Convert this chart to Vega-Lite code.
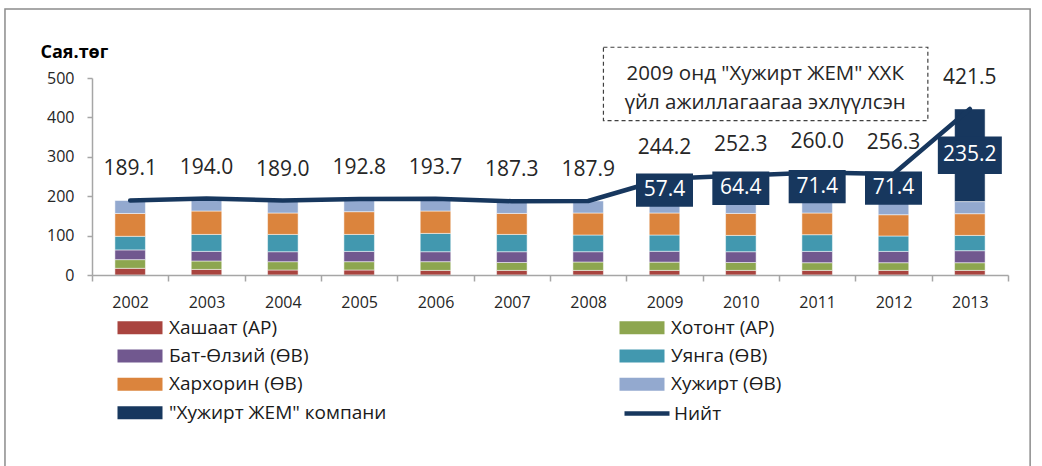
{
  "$schema": "https://vega.github.io/schema/vega-lite/v6.json",
  "width": 916,
  "height": 197,
  "autosize": {"type": "none"},
  "padding": {"left": 92, "top": 78, "right": 34, "bottom": 191},
  "background": "white",
  "config": {
    "view": {"stroke": null},
    "font": "Open Sans",
    "text": {"font": "Open Sans"}
  },
  "datasets": {
    "seg": [
      {"year": "2002", "series": "Хашаат (АР)", "value": 17.0},
      {"year": "2002", "series": "Хотонт (АР)", "value": 22.0},
      {"year": "2002", "series": "Бат-Өлзий (ӨВ)", "value": 24.7},
      {"year": "2002", "series": "Уянга (ӨВ)", "value": 34.5},
      {"year": "2002", "series": "Хархорин (ӨВ)", "value": 58.0},
      {"year": "2002", "series": "Хужирт (ӨВ)", "value": 32.9},
      {"year": "2003", "series": "Хашаат (АР)", "value": 14.2},
      {"year": "2003", "series": "Хотонт (АР)", "value": 21.3},
      {"year": "2003", "series": "Бат-Өлзий (ӨВ)", "value": 24.5},
      {"year": "2003", "series": "Уянга (ӨВ)", "value": 43.0},
      {"year": "2003", "series": "Хархорин (ӨВ)", "value": 59.4},
      {"year": "2003", "series": "Хужирт (ӨВ)", "value": 31.6},
      {"year": "2004", "series": "Хашаат (АР)", "value": 12.7},
      {"year": "2004", "series": "Хотонт (АР)", "value": 21.1},
      {"year": "2004", "series": "Бат-Өлзий (ӨВ)", "value": 25.3},
      {"year": "2004", "series": "Уянга (ӨВ)", "value": 43.9},
      {"year": "2004", "series": "Хархорин (ӨВ)", "value": 54.4},
      {"year": "2004", "series": "Хужирт (ӨВ)", "value": 31.6},
      {"year": "2005", "series": "Хашаат (АР)", "value": 12.7},
      {"year": "2005", "series": "Хотонт (АР)", "value": 21.1},
      {"year": "2005", "series": "Бат-Өлзий (ӨВ)", "value": 26.1},
      {"year": "2005", "series": "Уянга (ӨВ)", "value": 43.1},
      {"year": "2005", "series": "Хархорин (ӨВ)", "value": 57.7},
      {"year": "2005", "series": "Хужирт (ӨВ)", "value": 32.1},
      {"year": "2006", "series": "Хашаат (АР)", "value": 11.7},
      {"year": "2006", "series": "Хотонт (АР)", "value": 22.1},
      {"year": "2006", "series": "Бат-Өлзий (ӨВ)", "value": 25.3},
      {"year": "2006", "series": "Уянга (ӨВ)", "value": 46.5},
      {"year": "2006", "series": "Хархорин (ӨВ)", "value": 56.8},
      {"year": "2006", "series": "Хужирт (ӨВ)", "value": 31.3},
      {"year": "2007", "series": "Хашаат (АР)", "value": 11.7},
      {"year": "2007", "series": "Хотонт (АР)", "value": 20.0},
      {"year": "2007", "series": "Бат-Өлзий (ӨВ)", "value": 27.4},
      {"year": "2007", "series": "Уянга (ӨВ)", "value": 43.9},
      {"year": "2007", "series": "Хархорин (ӨВ)", "value": 53.3},
      {"year": "2007", "series": "Хужирт (ӨВ)", "value": 31.0},
      {"year": "2008", "series": "Хашаат (АР)", "value": 11.7},
      {"year": "2008", "series": "Хотонт (АР)", "value": 21.3},
      {"year": "2008", "series": "Бат-Өлзий (ӨВ)", "value": 26.1},
      {"year": "2008", "series": "Уянга (ӨВ)", "value": 42.4},
      {"year": "2008", "series": "Хархорин (ӨВ)", "value": 55.9},
      {"year": "2008", "series": "Хужирт (ӨВ)", "value": 30.5},
      {"year": "2009", "series": "Хашаат (АР)", "value": 11.7},
      {"year": "2009", "series": "Хотонт (АР)", "value": 21.0},
      {"year": "2009", "series": "Бат-Өлзий (ӨВ)", "value": 27.5},
      {"year": "2009", "series": "Уянга (ӨВ)", "value": 41.3},
      {"year": "2009", "series": "Хархорин (ӨВ)", "value": 55.9},
      {"year": "2009", "series": "Хужирт (ӨВ)", "value": 29.4},
      {"year": "2009", "series": "\"Хужирт ЖЕМ\" компани", "value": 57.4},
      {"year": "2010", "series": "Хашаат (АР)", "value": 11.7},
      {"year": "2010", "series": "Хотонт (АР)", "value": 20.0},
      {"year": "2010", "series": "Бат-Өлзий (ӨВ)", "value": 27.4},
      {"year": "2010", "series": "Уянга (ӨВ)", "value": 41.4},
      {"year": "2010", "series": "Хархорин (ӨВ)", "value": 55.8},
      {"year": "2010", "series": "Хужирт (ӨВ)", "value": 31.6},
      {"year": "2010", "series": "\"Хужирт ЖЕМ\" компани", "value": 64.4},
      {"year": "2011", "series": "Хашаат (АР)", "value": 11.7},
      {"year": "2011", "series": "Хотонт (АР)", "value": 19.5},
      {"year": "2011", "series": "Бат-Өлзий (ӨВ)", "value": 28.7},
      {"year": "2011", "series": "Уянга (ӨВ)", "value": 42.4},
      {"year": "2011", "series": "Хархорин (ӨВ)", "value": 55.1},
      {"year": "2011", "series": "Хужирт (ӨВ)", "value": 31.2},
      {"year": "2011", "series": "\"Хужирт ЖЕМ\" компани", "value": 71.4},
      {"year": "2012", "series": "Хашаат (АР)", "value": 11.7},
      {"year": "2012", "series": "Хотонт (АР)", "value": 19.5},
      {"year": "2012", "series": "Бат-Өлзий (ӨВ)", "value": 28.7},
      {"year": "2012", "series": "Уянга (ӨВ)", "value": 39.1},
      {"year": "2012", "series": "Хархорин (ӨВ)", "value": 54.0},
      {"year": "2012", "series": "Хужирт (ӨВ)", "value": 31.9},
      {"year": "2012", "series": "\"Хужирт ЖЕМ\" компани", "value": 71.4},
      {"year": "2013", "series": "Хашаат (АР)", "value": 11.7},
      {"year": "2013", "series": "Хотонт (АР)", "value": 19.5},
      {"year": "2013", "series": "Бат-Өлзий (ӨВ)", "value": 30.5},
      {"year": "2013", "series": "Уянга (ӨВ)", "value": 38.8},
      {"year": "2013", "series": "Хархорин (ӨВ)", "value": 55.1},
      {"year": "2013", "series": "Хужирт (ӨВ)", "value": 30.7},
      {"year": "2013", "series": "\"Хужирт ЖЕМ\" компани", "value": 235.2}
    ],
    "tot": [
      {"year": "2002", "total": 189.1},
      {"year": "2003", "total": 194.0},
      {"year": "2004", "total": 189.0},
      {"year": "2005", "total": 192.8},
      {"year": "2006", "total": 193.7},
      {"year": "2007", "total": 187.3},
      {"year": "2008", "total": 187.9},
      {"year": "2009", "total": 244.2},
      {"year": "2010", "total": 252.3},
      {"year": "2011", "total": 260.0},
      {"year": "2012", "total": 256.3},
      {"year": "2013", "total": 421.5}
    ]
  },
  "layer": [
    {
      "data": {"values": [{}]},
      "mark": {"type": "rect", "fill": "transparent", "stroke": "#8C8C8C", "strokeWidth": 1.5},
      "encoding": {
        "x": {
          "datum": "2002", "type": "ordinal", "bandPosition": -1.14, "title": null,
          "scale": {"paddingInner": 0, "paddingOuter": 0},
          "axis": {
            "labelAngle": 0, "labelFontSize": 16, "labelColor": "#262626", "labelFont": "Open Sans",
            "domainColor": "#A6A6A6", "domainWidth": 1.5, "tickColor": "#A6A6A6", "tickWidth": 1.5,
            "tickSize": 6, "labelPadding": 13, "tickBand": "extent"
          }
        },
        "x2": {"datum": "2013", "bandPosition": 1.29},
        "y": {
          "datum": 675, "type": "quantitative",
          "title": "Сая.төг",
          "scale": {"domain": [0, 500], "nice": false},
          "axis": {
            "values": [0, 100, 200, 300, 400, 500], "tickCount": 6, "labelOverlap": false, "grid": false,
            "labelFontSize": 16, "labelColor": "#262626", "labelFont": "Open Sans", "labelPadding": 13,
            "domainColor": "#A6A6A6", "domainWidth": 1.5, "tickColor": "#A6A6A6", "tickWidth": 1.5, "tickSize": 5,
            "title": "Сая.төг", "titleAngle": 0, "titleAlign": "left", "titleBaseline": "middle",
            "titleX": -52, "titleY": -26, "titleFontSize": 18, "titleFontWeight": "bold",
            "titleColor": "#000000", "titleFont": "Open Sans"
          }
        },
        "y2": {"datum": -700}
      }
    },
    {
      "data": {"name": "seg"},
      "transform": [{"stack": "value", "groupby": ["year"], "as": ["y0", "y1"]}],
      "mark": {"type": "bar", "width": {"band": 0.4}, "stroke": "white", "strokeWidth": 0.5},
      "encoding": {
        "x": {"field": "year", "type": "ordinal", "title": null},
        "y": {"field": "y0", "type": "quantitative"},
        "y2": {"field": "y1"},
        "color": {
          "field": "series", "type": "nominal",
          "scale": {
            "domain": ["Хашаат (АР)", "Бат-Өлзий (ӨВ)", "Хархорин (ӨВ)", "\"Хужирт ЖЕМ\" компани", "Хотонт (АР)", "Уянга (ӨВ)", "Хужирт (ӨВ)"],
            "range": ["#A9443F", "#71588F", "#DB843D", "#17375E", "#8DA64F", "#4298AF", "#93A9CF"]
          },
          "legend": {
            "title": null, "orient": "none", "legendX": 25, "legendY": 240,
            "columns": 2, "columnPadding": 232, "rowPadding": 8.4,
            "symbolType": "M-1,-0.72H4V0.72H-1Z", "symbolSize": 324, "symbolStrokeWidth": 0,
            "labelOffset": 33, "labelFontSize": 19, "labelFont": "Open Sans", "labelColor": "#1a1a1a", "labelLimit": 400
          }
        }
      }
    },
    {
      "data": {"name": "tot"},
      "mark": {"type": "line", "strokeWidth": 4.5, "strokeCap": "round", "strokeJoin": "round"},
      "encoding": {
        "x": {"field": "year", "type": "ordinal", "title": null},
        "y": {"field": "total", "type": "quantitative"},
        "stroke": {
          "datum": "Нийт", "type": "nominal",
          "scale": {"range": ["#17375E"]},
          "legend": {
            "title": null, "orient": "none", "legendX": 530, "legendY": 310.5,
            "symbolType": "stroke", "symbolSize": 2025, "symbolStrokeWidth": 4.5,
            "labelOffset": 2, "labelFontSize": 19, "labelFont": "Open Sans", "labelColor": "#1a1a1a"
          }
        }
      }
    },
    {
      "data": {"name": "seg"},
      "transform": [
        {"stack": "value", "groupby": ["year"], "as": ["y0", "y1"]},
        {"filter": {"field": "series", "equal": "\"Хужирт ЖЕМ\" компани"}},
        {"fold": ["y0", "y1"], "as": ["k", "v"]},
        {"aggregate": [{"op": "mean", "field": "v", "as": "mid"}, {"op": "max", "field": "value", "as": "jem"}], "groupby": ["year"]}
      ],
      "layer": [
        {
          "mark": {"type": "point", "shape": "M-1,-0.586H1V0.586H-1Z", "filled": true, "opacity": 1, "color": "#17375E", "strokeWidth": 0},
          "encoding": {
            "x": {"field": "year", "type": "ordinal", "title": null},
            "y": {"field": "mid", "type": "quantitative"},
            "size": {"condition": {"test": "datum.jem > 100", "value": 4096}, "value": 3249}
          }
        },
        {
          "mark": {"type": "text", "color": "white", "fontSize": 21, "baseline": "middle", "align": "center"},
          "encoding": {
            "x": {"field": "year", "type": "ordinal", "title": null},
            "y": {"field": "mid", "type": "quantitative"},
            "text": {"field": "jem", "type": "quantitative", "format": ".1f"}
          }
        }
      ]
    },
    {
      "data": {"name": "tot"},
      "mark": {"type": "text", "color": "#262626", "fontSize": 21, "baseline": "middle", "align": "center", "dy": -31},
      "encoding": {
        "x": {"field": "year", "type": "ordinal", "title": null},
        "y": {"field": "total", "type": "quantitative"},
        "text": {"field": "total", "type": "quantitative", "format": ".1f"}
      }
    },
    {
      "data": {"values": [{}]},
      "mark": {"type": "rect", "fill": "transparent", "stroke": "#404040", "strokeWidth": 1.2, "strokeDash": [4, 3]},
      "encoding": {
        "x": {"datum": "2008", "type": "ordinal", "bandPosition": 0.7, "title": null},
        "x2": {"datum": "2012", "bandPosition": 0.95},
        "y": {"datum": 578, "type": "quantitative"},
        "y2": {"datum": 392}
      }
    },
    {
      "data": {"values": [{}]},
      "mark": {"type": "text", "fontSize": 20.5, "lineHeight": 29, "baseline": "middle", "align": "center", "color": "#262626"},
      "encoding": {
        "x": {"datum": "2010", "type": "ordinal", "bandPosition": 0.82, "title": null},
        "y": {"datum": 511, "type": "quantitative"},
        "text": {"value": ["2009 онд \"Хужирт ЖЕМ\" ХХК", "үйл ажиллагаагаа эхлүүлсэн"]}
      }
    }
  ]
}
